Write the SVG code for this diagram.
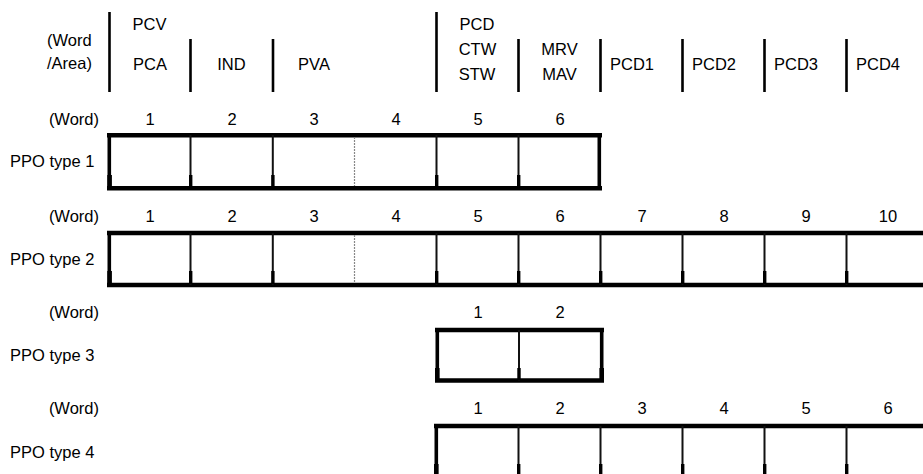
<svg xmlns="http://www.w3.org/2000/svg" width="923" height="474" viewBox="0 0 923 474">
<style>
text{font-family:"Liberation Sans",Arial,sans-serif;font-size:16.5px;fill:#000}
.m{text-anchor:middle}
.r{text-anchor:end}
.h{stroke:#000;stroke-width:4.6;fill:none}
.e{stroke:#000;stroke-width:3.6;fill:none}
.v{stroke:#111;stroke-width:2;fill:none}
.d{stroke:#888;stroke-width:1.2;stroke-dasharray:2 1;fill:none}
.b{stroke:#000;stroke-width:2.6;fill:none}
.s{fill:#000}
</style>
<rect width="923" height="474" fill="#fff"/>
<g id="header">
<text x="47" y="46">(Word</text>
<text x="47" y="69">/Area)</text>
<path class="b" d="M109.5 12V92M436.5 12V92M190.5 39V92M273 39V92M518.5 39V92M600.5 39V92M682.5 39V92M764.5 39V92M846.5 39V92"/>
<text class="m" x="149.5" y="30">PCV</text>
<text class="m" x="150" y="70">PCA</text>
<text class="m" x="231.5" y="70">IND</text>
<text class="m" x="314" y="70">PVA</text>
<text class="m" x="477" y="30">PCD</text>
<text class="m" x="477.5" y="55">CTW</text>
<text class="m" x="477" y="80">STW</text>
<text class="m" x="559.5" y="55">MRV</text>
<text class="m" x="559.5" y="80">MAV</text>
<text x="610" y="69.5">PCD1</text>
<text x="692" y="69.5">PCD2</text>
<text x="774" y="69.5">PCD3</text>
<text x="856" y="69.5">PCD4</text>
</g>
<g id="ppo1">
<text class="r" x="99" y="125">(Word)</text>
<text class="m" x="150" y="125">1</text>
<text class="m" x="232" y="125">2</text>
<text class="m" x="314" y="125">3</text>
<text class="m" x="396" y="125">4</text>
<text class="m" x="478" y="125">5</text>
<text class="m" x="560" y="125">6</text>
<text x="10" y="167">PPO type 1</text>
<path class="h" d="M107 135.3H602M107 188.3H602"/>
<path class="e" d="M109.3 135V188M599.3 135V188"/>
<path class="v" d="M190.5 135V188M272.8 135V188M436.5 135V188M518.5 135V188"/>
<path class="d" d="M354.5 137V186"/>
<path class="s" d="M107.3 175h4.6v13h-4.6zM189 175h3.4v13h-3.4zM271.2 175h3.4v13h-3.4zM435 175h3.4v13h-3.4zM517 175h3.4v13h-3.4z"/>
</g>
<g id="ppo2">
<text class="r" x="99" y="221.5">(Word)</text>
<text class="m" x="150" y="221.5">1</text>
<text class="m" x="232" y="221.5">2</text>
<text class="m" x="314" y="221.5">3</text>
<text class="m" x="396" y="221.5">4</text>
<text class="m" x="478" y="221.5">5</text>
<text class="m" x="560" y="221.5">6</text>
<text class="m" x="642" y="221.5">7</text>
<text class="m" x="724" y="221.5">8</text>
<text class="m" x="806" y="221.5">9</text>
<text class="m" x="888" y="221.5">10</text>
<text x="10" y="265">PPO type 2</text>
<path class="h" d="M107 233H923M107 285H923"/>
<path class="e" d="M109.3 233V285"/>
<path class="v" d="M190.5 233V285M272.8 233V285M436.5 233V285M518.5 233V285M600.5 233V285M682.5 233V285M764.5 233V285M846.5 233V285"/>
<path class="d" d="M354.5 235V283"/>
<path class="s" d="M107.3 271h4.6v13h-4.6zM189 271h3.4v13h-3.4zM271.2 271h3.4v13h-3.4zM435 271h3.4v13h-3.4zM517 271h3.4v13h-3.4zM599 271h3.4v13h-3.4zM681 271h3.4v13h-3.4zM763 271h3.4v13h-3.4zM845 271h3.4v13h-3.4z"/>
</g>
<g id="ppo3">
<text class="r" x="99" y="318">(Word)</text>
<text class="m" x="478" y="318">1</text>
<text class="m" x="560" y="318">2</text>
<text x="10" y="361">PPO type 3</text>
<path class="h" d="M435 330H604M435 380.5H604"/>
<path class="e" d="M437.3 330V380.5M601.7 330V380.5"/>
<path class="v" d="M519 330V380.5"/>
<path class="s" d="M435 368h4.6v12h-4.6zM517.3 368h3.4v12h-3.4zM599.4 368h4.6v12h-4.6z"/>
</g>
<g id="ppo4">
<text class="r" x="99" y="414">(Word)</text>
<text class="m" x="478" y="414">1</text>
<text class="m" x="560" y="414">2</text>
<text class="m" x="642" y="414">3</text>
<text class="m" x="724" y="414">4</text>
<text class="m" x="806" y="414">5</text>
<text class="m" x="888" y="414">6</text>
<text x="10" y="458">PPO type 4</text>
<path class="h" d="M434 426H923"/>
<path class="e" d="M436.3 426V474"/>
<path class="v" d="M518.5 426V474M600.5 426V474M682.5 426V474M764.5 426V474M846.5 426V474"/>
<path class="s" d="M434 464h4.6v10h-4.6zM517 464h3.4v10h-3.4zM599 464h3.4v10h-3.4zM681 464h3.4v10h-3.4zM763 464h3.4v10h-3.4zM845 464h3.4v10h-3.4z"/>
</g>
</svg>
